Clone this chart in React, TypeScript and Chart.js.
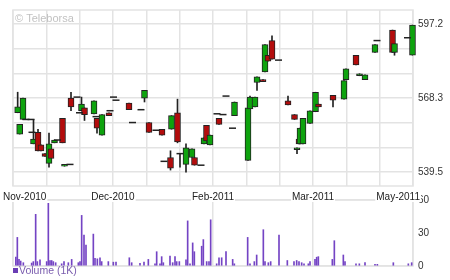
import { useEffect, useRef } from 'react';
import { Chart, registerables } from 'chart.js';

Chart.register(...registerables);

// ---------- data ----------
const monthTickValues = [0, 30, 60, 90, 120];
const monthLabels = ['Nov-2010', 'Dec-2010', 'Feb-2011', 'Mar-2011', 'May-2011'];
const priceTickValues = [539.5, 549.1, 558.7, 568.3, 577.9, 587.6, 597.2];
const priceTickLabels = ['539.5', '', '', '568.3', '', '', '597.2'];
const volumeTickValues = [0, 30, 60];
const volumeTickLabels = ['0', '30', '60'];
const watermark = '\u00A9 Teleborsa';
const volumeLegend = 'Volume (1K)';

const candleX = [
  1.4, 2.0, 3.0, 3.9, 5.4, 5.7, 6.15, 7.5, 8.4, 9.6, 10.8, 11.4, 12.45, 13.35, 14.85, 15.45, 17.1,
  17.4, 19.2, 19.95, 20.55, 21.45, 24.3, 24.9, 25.2, 26.7, 28.8, 29.1, 30.15, 30.9, 34.8, 35.85,
  38.4, 39.45, 40.8, 42.9, 44.7, 45.3, 47.25, 47.55, 49.35, 50.1, 51.9, 53.7, 54.45, 56.4, 57.3,
  58.05, 59.1, 61.2, 61.8, 63.0, 63.9, 65.85, 66.45, 70.5, 71.1, 72.6, 73.2, 75.0, 75.6, 76.5,
  77.7, 79.65, 82.5, 84.45, 85.2, 85.8, 86.1, 87.0, 89.1, 90.75, 91.65, 96.0, 99.3, 99.9, 102.9,
  103.95, 105.6, 108.6, 109.2, 113.85, 114.45, 118.35, 119.85,
];
const candleOpen = [
  562.6, 554.3, 560.0, 560.0, 560.0, 555.0, 550.5, 555.0, 550.1, 546.7, 542.9, 548.6, 550.9, 552.0, 560.4, 541.8, 542.5,
  568.3, 568.7, 562.6, 563.4, 564.5, 562.2, 561.1, 560.4, 553.9, 562.6, 563.4, 568.7, 567.5, 566.4, 558.8,
  563.8, 568.3, 558.8, 555.8, 556.2, 543.7, 545.2, 556.2, 562.6, 546.7, 542.5, 545.2, 545.2, 542.2, 550.5,
  557.7, 550.1, 562.2, 560.4, 561.9, 569.1, 556.6, 561.5, 544.1, 564.1, 564.9, 574.4, 575.5, 578.5, 585.0,
  590.7, 583.1, 567.2, 561.9, 548.2, 552.4, 550.5, 550.5, 558.5, 563.0, 566.0, 569.4, 567.9, 575.5, 585.0,
  577.0, 575.5, 586.1, 590.7, 594.8, 586.1, 591.8, 585.0,
];
const candleHigh = [
  570.6, 558.1, 568.3, 560.0, 560.0, 555.0, 560.0, 556.2, 550.1, 546.7, 554.7, 548.6, 552.0, 552.0, 560.4, 542.5, 542.5,
  570.6, 568.7, 562.6, 568.7, 564.5, 567.2, 561.1, 560.4, 561.9, 562.6, 563.4, 568.7, 567.5, 566.4, 558.8,
  563.8, 571.3, 558.8, 555.8, 556.2, 543.7, 547.8, 561.5, 567.9, 546.7, 550.5, 548.6, 545.2, 542.2, 552.8,
  557.7, 553.9, 562.2, 560.4, 561.9, 569.1, 556.6, 566.8, 564.5, 569.1, 568.7, 576.6, 575.5, 589.1, 585.0,
  592.5, 583.1, 569.1, 561.9, 549.0, 552.4, 556.6, 560.4, 563.4, 570.6, 566.0, 569.4, 575.1, 579.7, 585.0,
  577.8, 577.4, 589.1, 590.7, 594.8, 589.5, 591.8, 596.7,
];
const candleLow = [
  562.6, 554.3, 560.0, 560.0, 560.0, 555.0, 550.5, 547.8, 547.8, 545.6, 541.4, 544.8, 550.9, 552.0, 550.9, 541.8, 542.5,
  563.4, 568.7, 562.6, 563.4, 559.6, 562.2, 561.1, 554.7, 553.9, 561.5, 563.4, 568.7, 567.5, 563.8, 558.8,
  563.8, 566.8, 555.0, 555.8, 553.9, 543.7, 540.3, 556.2, 550.9, 541.4, 539.5, 545.2, 542.2, 542.2, 550.5,
  551.6, 550.1, 562.2, 558.1, 561.9, 569.1, 556.6, 561.5, 544.1, 564.1, 564.9, 571.3, 574.7, 578.5, 582.7,
  583.5, 583.1, 565.7, 560.0, 546.7, 550.5, 550.5, 550.5, 558.5, 563.0, 564.9, 564.9, 567.9, 575.5, 581.2,
  577.0, 575.5, 586.1, 590.7, 586.1, 585.0, 591.8, 585.0,
];
const candleClose = [
  564.9, 558.1, 568.3, 560.0, 560.0, 555.0, 552.4, 547.8, 547.8, 545.6, 550.5, 544.8, 552.0, 552.0, 550.9, 542.5, 542.5,
  564.9, 568.7, 562.6, 566.0, 561.9, 567.2, 561.1, 556.6, 561.9, 561.5, 563.4, 568.7, 567.5, 563.8, 558.8,
  563.8, 571.3, 555.0, 555.8, 553.9, 543.7, 541.0, 561.5, 551.3, 546.7, 549.0, 548.6, 542.2, 542.2, 552.8,
  551.6, 553.9, 562.2, 558.1, 561.9, 569.1, 556.6, 566.8, 564.5, 568.7, 568.7, 576.6, 574.7, 589.1, 582.7,
  583.5, 583.1, 565.7, 560.0, 549.0, 550.5, 556.6, 560.4, 563.4, 570.6, 564.9, 567.5, 575.1, 579.7, 581.2,
  577.8, 577.4, 589.1, 590.7, 586.1, 589.5, 591.8, 596.7,
];

const volumeX = [
  0.85, 1.3, 1.8, 2.3, 3.1, 5.6, 6.1, 6.8, 7.3, 8.1, 10.1, 10.6, 11.1, 11.6, 12.1, 12.8, 14.6, 15.3,
  16.6, 17.6, 19.6, 20.1, 20.6, 21.3, 21.9, 24.1, 24.6, 25.3, 26.1, 26.6, 28.6, 30.1, 30.9, 34.9, 35.6,
  38.1, 39.3, 40.6, 42.6, 43.1, 44.1, 44.6, 45.1, 47.1, 47.9, 48.6, 49.1, 49.9, 51.9, 52.4, 53.1, 53.9,
  54.4, 56.6, 57.1, 58.1, 58.8, 59.3, 61.1, 61.8, 62.6, 63.9, 65.9, 66.4, 70.4, 71.1, 72.4, 73.1, 75.1,
  75.6, 76.6, 77.3, 79.8, 82.3, 84.3, 85.1, 85.8, 86.6, 87.3, 88.6, 89.1, 90.6, 91.1, 91.6, 95.8, 96.4,
  99.1, 99.6, 102.9, 103.9, 105.6, 108.6, 109.3, 114.1, 118.6, 119.6,
];
const volumeK = [
  8, 26, 6, 4.5, 3, 2.7, 4, 47, 4, 5.5, 4, 57, 5, 5, 4, 3, 2, 4,
  3, 6, 3, 4, 46, 28, 19, 29, 7, 6.5, 7.5, 4, 4, 3.5, 3.5, 7.5, 3,
  2.5, 3.5, 6, 2, 13, 2, 8.5, 3, 9, 3, 8.5, 4, 4, 5.5, 41, 2, 21,
  13, 18, 24, 4, 4, 42, 2, 7.5, 7.5, 13, 6, 2, 26, 2, 4, 10, 33,
  4, 3, 4, 28, 5, 4, 5, 4, 3, 2, 2, 4, 6, 8, 8.5, 6, 23,
  10, 4, 2, 2, 3, 1.5, 1.5, 3, 2, 3,
];

// ---------- styles ----------
const FONT = "'Liberation Sans', Arial, Helvetica, sans-serif";
const GRID = '#e3e3e3';
const UP = '#0ea30e';
const DOWN = '#b30c0c';
const INK = '#222222';
const VOL = '#7444c4';

const framePlugin = {
  id: 'frame',
  beforeDatasetsDraw(chart: any) {
    const { ctx, chartArea: a } = chart;
    ctx.save();
    ctx.strokeStyle = GRID;
    ctx.lineWidth = 1.5;
    ctx.strokeRect(a.left, a.top, a.right - a.left, a.bottom - a.top);
    ctx.restore();
  },
};

const watermarkPlugin = {
  id: 'watermark',
  beforeDatasetsDraw(chart: any) {
    const { ctx, chartArea: a } = chart;
    ctx.save();
    ctx.font = `11px ${FONT}`;
    ctx.fillStyle = '#c2c2c2';
    ctx.textBaseline = 'middle';
    ctx.textAlign = 'left';
    ctx.fillText(watermark, a.left + 2, a.top + 9);
    ctx.restore();
  },
};

const volumeDecorPlugin = {
  id: 'volumeDecor',
  afterDraw(chart: any) {
    const { ctx, chartArea: a } = chart;
    const xs = chart.scales.x;
    ctx.save();
    ctx.font = `10px ${FONT}`;
    ctx.textBaseline = 'middle';
    ctx.textAlign = 'left';
    monthTickValues.forEach((v, i) => {
      const text = monthLabels[i];
      const w = ctx.measureText(text).width;
      let left = xs.getPixelForValue(v) - w / 2;
      left = Math.max(3, Math.min(left, a.right + 7 - w));
      ctx.fillStyle = '#ffffff';
      ctx.fillRect(left - 1, a.top - 8, w + 2, 10);
      ctx.fillStyle = INK;
      ctx.fillText(text, left, a.top - 3);
    });
    // legend
    ctx.font = `10.5px ${FONT}`;
    ctx.fillStyle = '#6a3db4';
    ctx.fillRect(a.left, a.bottom + 2, 5, 5);
    ctx.fillStyle = '#7a5cae';
    ctx.fillText(volumeLegend, a.left + 6, a.bottom + 5);
    ctx.restore();
  },
};

export default function App() {
  const priceRef = useRef<HTMLCanvasElement>(null);
  const volRef = useRef<HTMLCanvasElement>(null);

  useEffect(() => {
    const bodyIdx = candleX.map((_, i) => i).filter((i) => candleOpen[i] !== candleClose[i]);
    const dojiIdx = candleX.map((_, i) => i).filter((i) => candleOpen[i] === candleClose[i]);
    const wickIdx = candleX.map((_, i) => i).filter((i) => candleHigh[i] !== candleLow[i]);

    const priceChart = new Chart(priceRef.current as HTMLCanvasElement, {
      type: 'bar',
      data: {
        datasets: [
          {
            type: 'line',
            label: 'doji',
            data: dojiIdx.map((i) => ({ x: candleX[i], y: candleClose[i] })),
            showLine: false,
            pointStyle: 'line',
            pointRadius: 3.5,
            pointBorderWidth: 1.5,
            pointBorderColor: INK,
            pointBackgroundColor: INK,
            order: 1,
          } as any,
          {
            type: 'bar',
            label: 'body',
            data: bodyIdx.map((i) => ({ x: candleX[i], y: [candleOpen[i], candleClose[i]] })),
            backgroundColor: bodyIdx.map((i) => (candleClose[i] > candleOpen[i] ? UP : DOWN)),
            borderColor: INK,
            borderWidth: 1,
            borderSkipped: false,
            barThickness: 6,
            grouped: false,
            clip: false,
            order: 2,
          } as any,
          {
            type: 'bar',
            label: 'wick',
            data: wickIdx.map((i) => ({ x: candleX[i], y: [candleLow[i], candleHigh[i]] })),
            backgroundColor: INK,
            barThickness: 1,
            grouped: false,
            order: 3,
          } as any,
        ],
      },
      options: {
        responsive: false,
        maintainAspectRatio: false,
        animation: false,
        events: [],
        layout: { padding: { left: 13, top: 5, right: 0, bottom: 14 } },
        plugins: { legend: { display: false }, tooltip: { enabled: false } },
        scales: {
          x: {
            type: 'linear',
            min: 0,
            max: 120,
            offset: false,
            ticks: { display: false, stepSize: 10 },
            grid: { color: GRID, lineWidth: 1.5, drawTicks: false, offset: false },
            border: { display: false },
            afterFit: (s: any) => {
              s.height = 0;
            },
          },
          y: {
            type: 'linear',
            position: 'right',
            min: 534.1,
            max: 602.6,
            beginAtZero: false,
            afterBuildTicks: (s: any) => {
              s.ticks = priceTickValues.map((v) => ({ value: v }));
            },
            ticks: {
              callback: (_v: any, i: number) => priceTickLabels[i],
              font: { size: 10, family: FONT, lineHeight: 1 },
              color: '#333333',
              padding: 5,
            },
            grid: { color: GRID, lineWidth: 1.5, drawTicks: false },
            border: { display: false },
            afterFit: (s: any) => {
              s.width = 37;
            },
          },
        },
      } as any,
      plugins: [framePlugin, watermarkPlugin],
    });

    const volChart = new Chart(volRef.current as HTMLCanvasElement, {
      type: 'bar',
      data: {
        datasets: [
          {
            label: volumeLegend,
            data: volumeX.map((x, i) => ({ x, y: volumeK[i] })),
            backgroundColor: VOL,
            barThickness: 1,
            grouped: false,
          } as any,
        ],
      },
      options: {
        responsive: false,
        maintainAspectRatio: false,
        animation: false,
        events: [],
        layout: { padding: { left: 13, top: 10, right: 0, bottom: 14 } },
        plugins: { legend: { display: false }, tooltip: { enabled: false } },
        scales: {
          x: {
            type: 'linear',
            min: 0,
            max: 120,
            offset: false,
            afterBuildTicks: (s: any) => {
              s.ticks = monthTickValues.map((v) => ({ value: v }));
            },
            ticks: { display: false },
            grid: { color: GRID, lineWidth: 1.5, drawTicks: false, offset: false },
            border: { display: false },
            afterFit: (s: any) => {
              s.height = 0;
            },
          },
          y: {
            type: 'linear',
            position: 'right',
            min: 0,
            max: 60,
            afterBuildTicks: (s: any) => {
              s.ticks = volumeTickValues.map((v) => ({ value: v }));
            },
            ticks: {
              callback: (_v: any, i: number) => volumeTickLabels[i],
              font: { size: 10, family: FONT, lineHeight: 1 },
              color: '#333333',
              padding: 5,
            },
            grid: {
              color: (c: any) => (c.tick && c.tick.value === 30 ? 'rgba(0,0,0,0)' : GRID),
              lineWidth: 1.5,
              drawTicks: false,
            },
            border: { display: false },
            afterFit: (s: any) => {
              s.width = 37;
            },
          },
        },
      } as any,
      plugins: [framePlugin, volumeDecorPlugin],
    });

    return () => {
      priceChart.destroy();
      volChart.destroy();
    };
  }, []);

  return (
    <div style={{ position: 'absolute', left: 0, top: 0, width: 450, height: 280, background: '#ffffff' }}>
      <canvas
        ref={priceRef}
        width={450}
        height={200}
        style={{ position: 'absolute', left: 0, top: 0, width: 450, height: 200 }}
      />
      <canvas
        ref={volRef}
        width={450}
        height={90}
        style={{ position: 'absolute', left: 0, top: 190, width: 450, height: 90 }}
      />
    </div>
  );
}
